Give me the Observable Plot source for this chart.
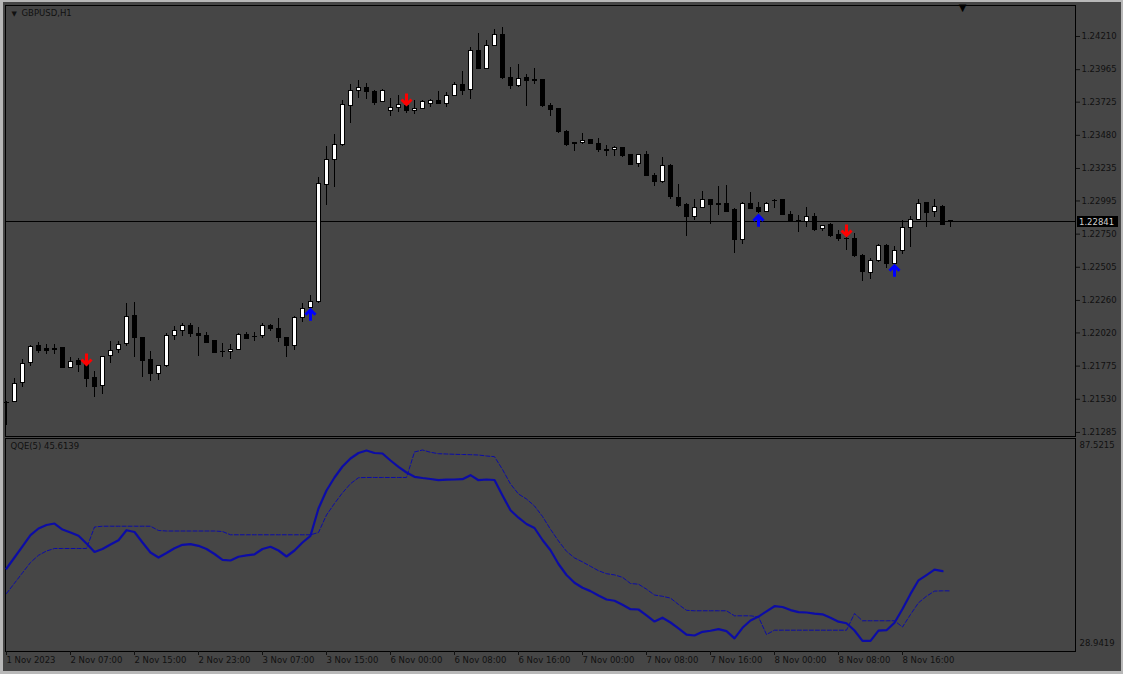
<!DOCTYPE html>
<html><head><meta charset="utf-8">
<script src="https://cdn.jsdelivr.net/npm/d3@7"></script>
<script src="https://cdn.jsdelivr.net/npm/@observablehq/plot@0.6"></script>
<style>
html,body{margin:0;padding:0;background:#b8b8b8;}
#wrap{position:relative;width:1123px;height:674px;background:#b8b8b8;overflow:hidden}
#inner{position:absolute;left:3px;top:2px;width:1118px;height:669px;background:#464646}
#top,#bot{position:absolute;left:0}
#top{top:0}
#bot{top:437px}
</style></head>
<body>
<div id="wrap"><div id="inner"></div><div id="top"></div><div id="bot"></div></div>
<script>
// ---- data: GBPUSD H1 candles (bar index 0..118) ----
const opens = [1.21499,1.21509,1.21652,1.21800,1.21927,1.21898,1.21900,1.21907,1.21763,1.21811,
1.21780,1.21689,1.21627,1.21846,1.21896,1.21935,1.22142,1.21984,1.21817,1.21718,
1.21775,1.21996,1.22038,1.22075,1.22009,1.21994,1.21957,1.21878,1.21881,1.21896,
1.22006,1.21991,1.21994,1.22075,1.22046,1.21984,1.21927,1.22132,1.22206,1.22247,
1.23115,1.23299,1.23410,1.23700,1.23806,1.23831,1.23799,1.23725,1.23656,1.23683,
1.23700,1.23661,1.23676,1.23713,1.23737,1.23713,1.23774,1.23853,1.23816,1.24101,
1.23971,1.24143,1.24223,1.23905,1.23841,1.23905,1.23890,1.23885,1.23700,1.23676,
1.23503,1.23420,1.23422,1.23447,1.23417,1.23370,1.23373,1.23388,1.23331,1.23270,
1.23331,1.23183,1.23134,1.23257,1.23018,1.22962,1.22875,1.22945,1.22999,1.22971,
1.22974,1.22925,1.22703,1.22974,1.22945,1.22917,1.22993,1.22999,1.22895,1.22849,
1.22838,1.22880,1.22789,1.22821,1.22740,1.22716,1.22714,1.22592,1.22462,1.22550,
1.22666,1.22531,1.22624,1.22797,1.22856,1.22979,1.22912,1.22954,1.22845];
const highs = [1.21514,1.21681,1.21822,1.21927,1.21947,1.21935,1.21933,1.21910,1.21841,1.21829,
1.21784,1.21735,1.21841,1.21957,1.21957,1.22235,1.22243,1.21984,1.21883,1.21775,
1.22014,1.22068,1.22088,1.22088,1.22063,1.22021,1.21961,1.21940,1.21935,1.22014,
1.22021,1.22021,1.22088,1.22079,1.22125,1.21984,1.22144,1.22235,1.22297,1.23171,
1.23397,1.23486,1.23737,1.23853,1.23885,1.23865,1.23811,1.23819,1.23750,1.23772,
1.23737,1.23737,1.23737,1.23742,1.23806,1.23799,1.23872,1.23951,1.24127,1.24230,
1.24180,1.24260,1.24274,1.23983,1.24003,1.23929,1.23971,1.23889,1.23713,1.23680,
1.23516,1.23425,1.23491,1.23451,1.23454,1.23405,1.23397,1.23392,1.23335,1.23335,
1.23360,1.23196,1.23318,1.23264,1.23117,1.22974,1.23004,1.23067,1.23004,1.23102,
1.23109,1.22937,1.22986,1.23060,1.22986,1.22982,1.23006,1.23004,1.22920,1.22888,
1.22945,1.22905,1.22812,1.22825,1.22777,1.22753,1.22753,1.22600,1.22568,1.22674,
1.22674,1.22659,1.22851,1.22880,1.23004,1.22986,1.23004,1.22962,1.22846];
const lows = [1.21336,1.21503,1.21619,1.21772,1.21866,1.21859,1.21859,1.21757,1.21760,1.21730,
1.21619,1.21541,1.21563,1.21792,1.21871,1.21920,1.21841,1.21693,1.21664,1.21669,
1.21767,1.21964,1.21991,1.21989,1.21848,1.21942,1.21866,1.21841,1.21824,1.21890,
1.21970,1.21959,1.21977,1.22031,1.21947,1.21841,1.21890,1.22100,1.22186,1.22235,
1.22962,1.23097,1.23400,1.23570,1.23750,1.23745,1.23700,1.23719,1.23619,1.23651,
1.23639,1.23632,1.23669,1.23683,1.23708,1.23688,1.23767,1.23774,1.23745,1.23966,
1.23966,1.24136,1.23892,1.23816,1.23835,1.23693,1.23855,1.23683,1.23619,1.23496,
1.23397,1.23363,1.23410,1.23414,1.23355,1.23326,1.23326,1.23318,1.23257,1.23244,
1.23176,1.23104,1.23126,1.23004,1.22949,1.22733,1.22851,1.22937,1.22821,1.22888,
1.22912,1.22609,1.22674,1.22933,1.22900,1.22912,1.22942,1.22884,1.22834,1.22764,
1.22801,1.22772,1.22772,1.22727,1.22696,1.22629,1.22581,1.22402,1.22415,1.22543,
1.22494,1.22518,1.22600,1.22649,1.22851,1.22801,1.22875,1.22815,1.22801];
const closes = [1.21506,1.21645,1.21792,1.21915,1.21890,1.21890,1.21896,1.21760,1.21809,1.21780,
1.21681,1.21619,1.21841,1.21890,1.21933,1.22136,1.21981,1.21811,1.21718,1.21775,
1.21996,1.22033,1.22073,1.22009,1.21996,1.21947,1.21874,1.21876,1.21896,1.22006,
1.21977,1.21989,1.22070,1.22046,1.21981,1.21922,1.22129,1.22199,1.22247,1.23117,
1.23299,1.23410,1.23705,1.23809,1.23831,1.23799,1.23717,1.23806,1.23680,1.23705,
1.23658,1.23676,1.23725,1.23737,1.23713,1.23769,1.23853,1.23811,1.24101,1.23971,
1.24138,1.24223,1.23902,1.23841,1.23898,1.23880,1.23880,1.23693,1.23669,1.23503,
1.23412,1.23414,1.23437,1.23417,1.23368,1.23366,1.23385,1.23326,1.23264,1.23331,
1.23183,1.23134,1.23257,1.23023,1.22956,1.22875,1.22945,1.22999,1.22962,1.22967,
1.22917,1.22703,1.22974,1.22937,1.22912,1.22974,1.22992,1.22888,1.22838,1.22843,
1.22880,1.22784,1.22809,1.22733,1.22716,1.22714,1.22585,1.22469,1.22548,1.22666,
1.22531,1.22624,1.22797,1.22856,1.22974,1.22905,1.22949,1.22819,1.22841];

const lastClose = 1.22841;
const symbolTitle = "GBPUSD,H1";
const priceTicks = [1.24210,1.23965,1.23725,1.23480,1.23235,1.22995,1.22750,1.22505,1.22260,1.22020,1.21775,1.21530,1.21285];

// signal arrows
const sellBars = [10, 50, 105];
const sellPrices = [1.21787, 1.23708, 1.22740];
const buyBars = [38, 94, 111];
const buyPrices = [1.22191, 1.22886, 1.22516];

// time axis
const timeTickBars = [0,8,16,24,32,40,48,56,64,72,80,88,96,104,112];
const timeTickLabels = ["1 Nov 2023","2 Nov 07:00","2 Nov 15:00","2 Nov 23:00","3 Nov 07:00","3 Nov 15:00","6 Nov 00:00","6 Nov 08:00","6 Nov 16:00","7 Nov 00:00","7 Nov 08:00","7 Nov 16:00","8 Nov 00:00","8 Nov 08:00","8 Nov 16:00"];

// QQE(5) indicator
const qqeLabel = "QQE(5) 45.6139";
const qqeRange = [28.9419, 87.5215];
const qqeMain = [51.77,54.79,57.87,60.93,62.77,63.73,64.14,62.49,61.67,60.76,
58.64,56.31,57.13,58.37,59.55,62.30,61.81,58.92,56.17,54.79,
56.03,57.35,58.29,58.48,58.01,57.13,55.76,54.16,53.97,54.99,
55.40,55.67,57.13,57.74,56.72,55.07,56.72,58.92,60.76,68.27,
73.22,76.80,79.82,82.02,83.53,84.22,83.53,83.40,81.47,79.74,
78.17,76.99,76.66,76.38,76.05,76.19,76.25,76.33,77.43,76.05,
76.25,76.11,71.85,67.80,65.74,64.01,62.91,59.61,56.80,53.01,
49.98,47.84,46.46,45.55,44.34,43.24,42.89,41.81,40.58,40.49,
38.90,37.19,38.24,36.92,35.32,33.56,33.34,34.36,34.64,35.08,
34.55,32.57,35.46,37.47,38.54,40.00,41.40,41.18,40.33,39.78,
39.67,39.37,39.17,38.21,37.14,36.70,34.72,31.88,31.88,34.69,
34.80,36.84,40.63,44.78,48.52,49.95,51.44,51.03];
const qqeSignal = [44.89,47.73,50.59,53.42,55.40,56.58,57.27,57.27,57.27,57.27,
57.27,63.18,63.40,63.40,63.40,63.40,63.40,63.40,63.40,62.22,
62.08,62.08,62.08,62.08,62.08,62.08,62.08,61.94,61.04,61.04,
61.04,61.04,61.04,61.04,61.04,61.04,61.04,61.04,61.04,61.67,
66.48,69.65,72.59,75.09,76.74,76.80,76.80,76.80,76.80,76.80,
76.80,83.81,84.36,83.73,83.34,83.26,83.18,83.12,83.07,82.98,
82.71,82.52,79.00,75.01,72.26,70.88,68.96,66.07,62.55,59.33,
56.50,54.68,53.58,52.37,51.16,50.34,50.01,49.35,47.64,47.45,
46.08,44.48,44.12,43.63,41.87,40.27,40.14,40.14,40.14,40.14,
40.14,38.76,38.76,38.76,38.43,33.62,34.80,34.80,34.80,34.80,
34.80,34.80,34.80,34.80,34.80,34.80,39.39,37.39,37.39,37.39,
37.39,37.39,35.68,39.12,42.34,44.15,45.55,45.63,45.61];

// ---- build ----
const bars = opens.map((o, i) => ({i, o, h: highs[i], l: lows[i], c: closes[i]}));
const sells = sellBars.map((b, k) => ({i: b, p: sellPrices[k]}));
const buys = buyBars.map((b, k) => ({i: b, p: buyPrices[k]}));
const tickLabelOf = new Map(timeTickBars.map((b, k) => [b, timeTickLabels[k]]));

const W = 1123, frameLeft = 5, frameRight = 1075, barStep = 8, firstBarX = 6;
const xDomain = [(frameLeft - firstBarX) / barStep, (frameRight - firstBarX) / barStep];
const font = {fontFamily: "'DejaVu Sans', sans-serif", fontSize: "8.5px", color: "#111", background: "transparent", overflow: "visible"};
const ink = "#111";

const arrowShape = {
  draw(ctx, l) {
    const w = 5;
    ctx.moveTo(0, 0);
    ctx.lineTo(0, -l);
    ctx.moveTo(-w, -l + w);
    ctx.lineTo(0, -l);
    ctx.lineTo(w, -l + w);
  }
};

function priceTag(index, scales, values, dimensions) {
  const y = Math.round(scales.y(lastClose));
  const x = dimensions.width - dimensions.marginRight;
  const g = d3.create("svg:g");
  g.append("rect").attr("x", x + 2).attr("y", y - 5).attr("width", 41).attr("height", 11).attr("fill", "#000");
  g.append("text").attr("x", x + 4).attr("y", y + 0.5).attr("dominant-baseline", "central")
    .attr("text-anchor", "start")
    .attr("fill", "#cfcfcf").attr("font-size", "8.5px").text(d3.format(".5f")(lastClose));
  return g.node();
}

const topPlot = Plot.plot({
  width: W, height: 437,
  marginLeft: frameLeft, marginRight: W - frameRight, marginTop: 5, marginBottom: 1,
  style: font,
  x: {domain: xDomain, axis: null},
  y: {domain: [1.21255, 1.24439], label: null},
  marks: [
    Plot.frame({stroke: "#000"}),
    Plot.ruleY([lastClose], {stroke: "#000", shapeRendering: "crispEdges"}),
    Plot.ruleX(bars, {x: "i", y1: "l", y2: "h", stroke: "#000", shapeRendering: "crispEdges"}),
    Plot.rect(bars, {x1: d => d.i - 0.25, x2: d => d.i + 0.25, y1: "o", y2: "c",
      fill: d => d.c > d.o ? "#ffffff" : "#000000", stroke: "#000", strokeWidth: 1, shapeRendering: "crispEdges"}),
    Plot.vector(sells, {x: "i", y: "p", rotate: 180, anchor: "end", length: 11, shape: arrowShape,
      stroke: "#ff0000", strokeWidth: 3, strokeLinejoin: "miter", strokeLinecap: "butt"}),
    Plot.vector(buys, {x: "i", y: "p", rotate: 0, anchor: "end", length: 11, shape: arrowShape,
      stroke: "#0000ff", strokeWidth: 3, strokeLinejoin: "miter", strokeLinecap: "butt"}),
    Plot.axisY({anchor: "right", ticks: priceTicks, tickFormat: d3.format(".5f"), tickSize: 4, tickPadding: 2, color: ink, label: null}),
    priceTag,
    Plot.text(["\u25BC"], {frameAnchor: "top-left", dx: 6, dy: 8, fontSize: 7, fill: ink, lineAnchor: "middle"}),
    Plot.text([symbolTitle], {frameAnchor: "top-left", dx: 16, dy: 8, textAnchor: "start", lineAnchor: "middle", fill: ink}),
    Plot.text(["\u25BC"], {frameAnchor: "top-right", dx: -109, dy: 2, fontSize: 10, fill: "#000", lineAnchor: "middle"})
  ]
});
document.getElementById("top").appendChild(topPlot);

const botPlot = Plot.plot({
  width: W, height: 237,
  marginLeft: frameLeft, marginRight: W - frameRight, marginTop: 1, marginBottom: 23,
  style: font,
  x: {domain: xDomain, label: null},
  y: {domain: qqeRange, label: null},
  marks: [
    Plot.frame({stroke: "#000"}),
    Plot.lineY(qqeSignal, {stroke: "#0c0ca6", strokeWidth: 1, strokeDasharray: "4,2"}),
    Plot.lineY(qqeMain, {stroke: "#0c0ca6", strokeWidth: 2.2, strokeLinejoin: "round"}),
    Plot.axisX({ticks: timeTickBars, tickFormat: d => tickLabelOf.get(d), tickSize: 4, tickPadding: 1,
      textAnchor: "start", dx: 0, color: ink, label: null}),
    Plot.axisY({anchor: "right", ticks: [qqeRange[1]], tickFormat: d3.format(".4f"), tickSize: 0, tickPadding: 4, dy: 7, color: ink, label: null}),
    Plot.axisY({anchor: "right", ticks: [qqeRange[0]], tickFormat: d3.format(".4f"), tickSize: 0, tickPadding: 4, dy: -8, color: ink, label: null}),
    Plot.text([qqeLabel], {frameAnchor: "top-left", dx: 5, dy: 8, textAnchor: "start", lineAnchor: "middle", fill: ink})
  ]
});
document.getElementById("bot").appendChild(botPlot);
</script>
</body></html>
